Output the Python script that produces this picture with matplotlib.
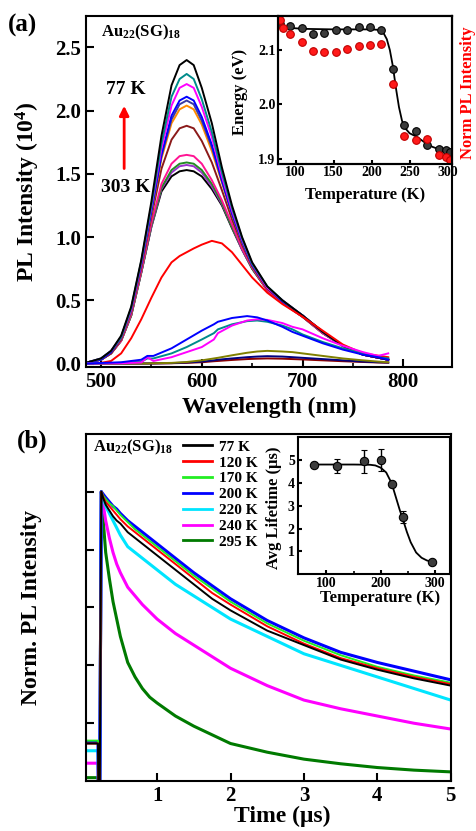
import numpy as np
import matplotlib
matplotlib.use('Agg')
import matplotlib.pyplot as plt
from matplotlib.ticker import FormatStrFormatter

plt.rcParams.update({
    'font.family': 'Liberation Serif',
    'font.weight': 'bold',
    'axes.labelweight': 'bold',
    'mathtext.fontset': 'custom',
    'mathtext.rm': 'Liberation Serif:bold',
    'mathtext.it': 'Liberation Serif:bold:italic',
    'mathtext.bf': 'Liberation Serif:bold',
    'axes.linewidth': 1.5,
    'xtick.direction': 'in',
    'ytick.direction': 'in',
    'xtick.major.width': 1.5,
    'ytick.major.width': 1.5,
    'xtick.minor.width': 1.2,
    'ytick.minor.width': 1.2,
})

# ---- (a) steady-state PL spectra, 77 K -> 303 K ----
wl = [487, 500, 510, 520, 530, 540, 550, 560, 570, 578, 585, 592, 600,
      610, 620, 630, 640, 650, 665, 680, 700, 720, 740, 760, 785]
pl_black = [0.01, 0.04, 0.10, 0.22, 0.45, 0.82, 1.28, 1.80, 2.20, 2.36, 2.40, 2.36, 2.18,
            1.90, 1.55, 1.25, 1.00, 0.80, 0.61, 0.50, 0.38, 0.25, 0.14, 0.07, 0.03]
pl_teal = [0.01, 0.04, 0.10, 0.21, 0.44, 0.81, 1.25, 1.74, 2.11, 2.25, 2.29, 2.25, 2.09,
           1.83, 1.51, 1.23, 0.99, 0.79, 0.61, 0.50, 0.38, 0.25, 0.14, 0.07, 0.04]
pl_magenta = [0.01, 0.04, 0.10, 0.21, 0.43, 0.80, 1.24, 1.70, 2.04, 2.18, 2.21, 2.18, 2.03,
              1.79, 1.48, 1.21, 0.98, 0.79, 0.60, 0.50, 0.38, 0.25, 0.14, 0.07, 0.03]
pl_blue = [0.01, 0.03, 0.09, 0.21, 0.43, 0.79, 1.21, 1.65, 1.96, 2.08, 2.11, 2.08, 1.95,
           1.73, 1.45, 1.19, 0.97, 0.78, 0.60, 0.49, 0.38, 0.25, 0.14, 0.07, 0.03]
pl_navy = [0.01, 0.03, 0.09, 0.20, 0.42, 0.78, 1.20, 1.64, 1.93, 2.05, 2.08, 2.05, 1.92,
           1.71, 1.44, 1.18, 0.96, 0.78, 0.60, 0.49, 0.38, 0.25, 0.14, 0.07, 0.03]
pl_orange = [0.01, 0.03, 0.09, 0.20, 0.42, 0.78, 1.19, 1.62, 1.90, 2.01, 2.04, 2.01, 1.89,
             1.68, 1.43, 1.18, 0.96, 0.78, 0.60, 0.49, 0.38, 0.25, 0.14, 0.07, 0.03]
pl_maroon = [0.01, 0.03, 0.08, 0.19, 0.41, 0.76, 1.16, 1.54, 1.77, 1.86, 1.88, 1.86, 1.76,
             1.59, 1.37, 1.14, 0.94, 0.77, 0.59, 0.49, 0.37, 0.25, 0.14, 0.07, 0.03]
pl_pink = [0.01, 0.03, 0.08, 0.18, 0.39, 0.73, 1.11, 1.42, 1.58, 1.64, 1.65, 1.64, 1.58,
           1.45, 1.29, 1.10, 0.91, 0.76, 0.58, 0.48, 0.37, 0.24, 0.14, 0.07, 0.03]
pl_green = [0.01, 0.03, 0.08, 0.18, 0.38, 0.72, 1.09, 1.39, 1.53, 1.58, 1.59, 1.58, 1.53,
            1.42, 1.27, 1.08, 0.91, 0.75, 0.58, 0.48, 0.37, 0.24, 0.14, 0.07, 0.03]
pl_violet = [0.01, 0.03, 0.08, 0.18, 0.38, 0.72, 1.08, 1.38, 1.51, 1.56, 1.57, 1.56, 1.51,
             1.40, 1.26, 1.08, 0.90, 0.75, 0.58, 0.48, 0.37, 0.24, 0.14, 0.07, 0.03]
pl_black2 = [0.01, 0.03, 0.08, 0.18, 0.38, 0.72, 1.08, 1.36, 1.48, 1.52, 1.53, 1.52, 1.48,
             1.38, 1.25, 1.07, 0.90, 0.75, 0.58, 0.48, 0.37, 0.24, 0.14, 0.07, 0.03]
pl_red = [0.0, 0.005, 0.02, 0.08, 0.20, 0.35, 0.52, 0.68, 0.80, 0.85, 0.88, 0.91, 0.94,
          0.97, 0.95, 0.88, 0.78, 0.68, 0.56, 0.47, 0.37, 0.26, 0.15, 0.08, 0.05]

# weak, red-shifted emission at the highest temperatures
wl_lo = [487, 520, 540, 546, 552, 570, 585, 600, 612, 616, 630, 645, 655,
         665, 680, 690, 700, 720, 740, 760, 775, 785]
lo_blue = [0.0, 0.01, 0.03, 0.06, 0.06, 0.12, 0.19, 0.26, 0.31, 0.33, 0.36, 0.375, 0.365,
           0.34, 0.29, 0.25, 0.22, 0.16, 0.11, 0.07, 0.05, 0.03]
lo_teal = [0.0, 0.005, 0.015, 0.04, 0.04, 0.08, 0.13, 0.19, 0.24, 0.27, 0.31, 0.335, 0.34,
           0.33, 0.30, 0.27, 0.23, 0.17, 0.12, 0.08, 0.05, 0.04]
lo_magenta = [0.0, 0.002, 0.008, 0.05, 0.02, 0.05, 0.09, 0.13, 0.19, 0.24, 0.30, 0.34, 0.35,
              0.345, 0.32, 0.29, 0.27, 0.20, 0.14, 0.09, 0.06, 0.08]
lo_olive = [0.0, 0.0, 0.0, 0.0, 0.002, 0.005, 0.012, 0.025, 0.04, 0.045, 0.065, 0.085, 0.095,
            0.10, 0.095, 0.09, 0.08, 0.06, 0.04, 0.025, 0.015, 0.01]
lo_navy = [0.0, 0.0, 0.0, 0.0, 0.001, 0.003, 0.008, 0.015, 0.025, 0.03, 0.04, 0.05, 0.055,
           0.058, 0.055, 0.05, 0.045, 0.035, 0.025, 0.015, 0.01, 0.008]
lo_maroon = [0.0, 0.0, 0.0, 0.0, 0.0, 0.002, 0.005, 0.01, 0.018, 0.02, 0.028, 0.035, 0.038,
             0.04, 0.038, 0.035, 0.032, 0.025, 0.018, 0.012, 0.008, 0.006]

# inset (a): peak energy and normalised PL intensity vs temperature
T_energy = [80, 93, 108, 123, 138, 153, 168, 183, 198, 213, 228, 243, 258, 273, 288, 298, 303]
energy = [2.148, 2.145, 2.140, 2.129, 2.132, 2.137, 2.137, 2.143, 2.143, 2.137, 2.066, 1.963,
          1.951, 1.925, 1.918, 1.916, 1.913]
T_norm = [80, 83, 93, 108, 123, 138, 153, 168, 183, 198, 213, 228, 243, 258, 273, 288, 298, 303]
norm_pl = [1.00, 0.94, 0.90, 0.84, 0.78, 0.77, 0.77, 0.79, 0.81, 0.82, 0.83, 0.54, 0.17,
           0.14, 0.15, 0.03, 0.02, 0.0]
T_efit = [77, 90, 110, 150, 200, 210, 215, 220, 224, 228, 232, 236, 240, 245, 250, 260,
          270, 280, 290, 303]
E_fit = [2.143, 2.141, 2.139, 2.138, 2.138, 2.137, 2.133, 2.120, 2.100, 2.070, 2.030, 1.995,
         1.970, 1.955, 1.947, 1.940, 1.930, 1.922, 1.917, 1.912]

# ---- (b) PL decays ----
t_us = [0.03, 0.195, 0.20, 0.22, 0.24, 0.27, 0.3, 0.35, 0.4, 0.45, 0.5, 0.6, 0.7, 0.8,
        0.9, 1.0, 1.25, 1.5, 1.75, 2.0, 2.5, 3.0, 3.5, 4.0, 4.5, 5.0]
decay = {
    '77 K':  [0.13, 0.13, 0.0, 0.0, 1.0, 0.975, 0.955, 0.935, 0.915, 0.90, 0.89, 0.86, 0.84,
              0.82, 0.80, 0.78, 0.73, 0.68, 0.63, 0.59, 0.52, 0.47, 0.42, 0.385, 0.355, 0.33],
    '120 K': [0.13, 0.13, 0.0, 0.0, 1.0, 0.98, 0.965, 0.95, 0.935, 0.92, 0.905, 0.88, 0.86,
              0.84, 0.82, 0.80, 0.75, 0.70, 0.65, 0.61, 0.535, 0.475, 0.425, 0.39, 0.36, 0.335],
    '170 K': [0.14, 0.14, 0.0, 0.0, 1.0, 0.985, 0.975, 0.96, 0.95, 0.935, 0.92, 0.895, 0.87,
              0.85, 0.83, 0.81, 0.76, 0.71, 0.665, 0.62, 0.545, 0.485, 0.435, 0.395, 0.365, 0.34],
    '200 K': [0.135, 0.135, 0.0, 0.0, 1.0, 0.99, 0.98, 0.965, 0.95, 0.94, 0.925, 0.90, 0.88,
              0.86, 0.84, 0.82, 0.77, 0.72, 0.675, 0.63, 0.555, 0.495, 0.445, 0.41, 0.38, 0.35],
    '220 K': [0.105, 0.105, 0.0, 0.0, 1.0, 0.975, 0.95, 0.925, 0.90, 0.875, 0.85, 0.81, 0.79,
              0.77, 0.75, 0.73, 0.68, 0.64, 0.60, 0.56, 0.50, 0.44, 0.40, 0.36, 0.32, 0.28],
    '240 K': [0.062, 0.062, 0.0, 0.0, 1.0, 0.95, 0.90, 0.84, 0.79, 0.75, 0.72, 0.67, 0.64,
              0.61, 0.585, 0.56, 0.51, 0.47, 0.43, 0.39, 0.33, 0.28, 0.25, 0.225, 0.20, 0.18],
    '295 K': [0.012, 0.012, 0.0, 0.0, 1.0, 0.89, 0.79, 0.70, 0.62, 0.56, 0.50, 0.41, 0.36,
              0.32, 0.29, 0.27, 0.225, 0.19, 0.16, 0.13, 0.10, 0.076, 0.06, 0.047, 0.038, 0.032],
}
decay_colors = {'77 K': '#000000', '120 K': '#ff0000', '170 K': '#22ee22', '200 K': '#0000ff',
                '220 K': '#00e5ff', '240 K': '#ff00ff', '295 K': '#007a00'}

# inset (b): average lifetime vs temperature
T_tau = [77, 120, 170, 200, 220, 240, 295]
tau = [4.79, 4.75, 4.94, 5.0, 3.93, 2.50, 0.52]
tau_err = [0.1, 0.3, 0.5, 0.5, 0.12, 0.25, 0.05]
T_taufit = [77, 100, 150, 180, 190, 200, 210, 220, 228, 235, 240, 248, 255, 265, 275, 285, 295]
tau_fit = [4.80, 4.80, 4.80, 4.79, 4.76, 4.66, 4.45, 3.98, 3.35, 2.80, 2.45, 1.85, 1.40,
           0.95, 0.72, 0.60, 0.54]


fig = plt.figure(figsize=(4.77, 8.31), dpi=100)

# ---------------- panel (a) ----------------
ax1 = fig.add_axes([0.180, 0.558, 0.767, 0.423])
spectra = [(pl_black2, '#000000'), (pl_violet, '#9932cc'), (pl_green, '#228b22'),
           (pl_pink, '#ff1493'), (pl_maroon, '#8b1a1a'), (pl_orange, '#ff8c00'),
           (pl_navy, '#3a3aa0'), (pl_blue, '#0000ff'), (pl_magenta, '#ff00ff'),
           (pl_teal, '#008b8b'), (pl_black, '#000000'), (pl_red, '#ff0000')]
for vals, c in spectra:
    ax1.plot(wl, vals, color=c, lw=1.4)
low = [(lo_maroon, '#8b0000'), (lo_navy, '#000080'), (lo_olive, '#808000'),
       (lo_teal, '#008b8b'), (lo_magenta, '#ff00ff'), (lo_blue, '#0000ff')]
for vals, c in low:
    ax1.plot(wl_lo, vals, color=c, lw=1.4)

ax1.set_xlim(485, 848)
ax1.set_ylim(-0.03, 2.75)
ax1.set_xticks([500, 600, 700, 800])
ax1.set_xticks([550, 650, 750], minor=True)
ax1.set_yticks([0, 0.5, 1.0, 1.5, 2.0, 2.5])
ax1.yaxis.set_major_formatter(FormatStrFormatter('%.1f'))
ax1.tick_params(which='major', length=5.5, labelsize=15)
ax1.tick_params(which='minor', length=3)
ax1.set_xlabel('Wavelength (nm)', fontsize=17)
ax1.set_ylabel('PL Intensity (10$^4$)', fontsize=17)
ax1.xaxis.set_label_coords(0.5, -0.083)
ax1.yaxis.set_label_coords(-0.12, 0.5)

ax1.text(0.041, 0.952, r'Au$_{22}$(SG)$_{18}$', transform=ax1.transAxes,
         fontsize=12, va='center', ha='left')
ax1.text(0.108, 0.789, '77 K', transform=ax1.transAxes, fontsize=14, ha='center', va='center')
ax1.text(0.109, 0.511, '303 K', transform=ax1.transAxes, fontsize=14, ha='center', va='center')
ax1.annotate('', xy=(523, 2.06), xytext=(523, 1.52),
             arrowprops=dict(arrowstyle='-|>', color='red', lw=2, mutation_scale=14))

# inset: energy (black) and normalised intensity (red)
axi1 = fig.add_axes([0.583, 0.803, 0.365, 0.178])
axi1.plot(T_efit, E_fit, color='k', lw=1.3)
axi1.plot(T_energy, energy, 'o', mfc='#3c3c3c', mec='k', mew=0.8, ms=5.5)
axi1.set_xlim(77, 306)
axi1.set_ylim(1.891, 2.163)
axi1.set_xticks([100, 150, 200, 250, 300])
axi1.set_yticks([1.9, 2.0, 2.1])
axi1.yaxis.set_major_formatter(FormatStrFormatter('%.1f'))
axi1.tick_params(length=3, labelsize=10, pad=2, right=True)
axi1.set_xlabel('Temperature (K)', fontsize=12)
axi1.set_ylabel('Energy (eV)', fontsize=12)
axi1.xaxis.set_label_coords(0.5, -0.155)
axi1.yaxis.set_label_coords(-0.172, 0.486)

axr = axi1.twinx()
axr.plot(T_norm, norm_pl, 'o', mfc='#ff1a1a', mec='#c00000', mew=0.8, ms=5.5)
axr.set_ylim(-0.03, 1.03)
axr.set_yticks([])
axr.set_ylabel('Norm PL Intensity', fontsize=12, color='red')
axr.yaxis.set_label_coords(1.046, 0.48)

fig.text(0.017, 0.969, '(a)', fontsize=18, va='center', ha='left')

# ---------------- panel (b) ----------------
ax2 = fig.add_axes([0.180, 0.060, 0.765, 0.418])
for key in ['295 K', '240 K', '220 K', '200 K']:
    ax2.plot(t_us, decay[key], color=decay_colors[key], lw=2.2)
for key in ['170 K', '120 K', '77 K']:
    ax2.plot(t_us, decay[key], color=decay_colors[key], lw=1.4)

ax2.set_xlim(0.03, 5.0)
ax2.set_ylim(0, 1.2)
ax2.set_xticks([1, 2, 3, 4, 5])
ax2.set_yticks([0.2, 0.4, 0.6, 0.8, 1.0])
ax2.set_yticklabels([])
ax2.tick_params(length=5.5, labelsize=15)
ax2.set_xlabel('Time (\u03bcs)', fontsize=17)
ax2.set_ylabel('Norm. PL Intensity', fontsize=17)
ax2.xaxis.set_label_coords(0.538, -0.072)
ax2.yaxis.set_label_coords(-0.12, 0.5)

handles = [plt.Line2D([], [], color=decay_colors[k], lw=2) for k in decay]
ax2.legend(handles, list(decay.keys()), loc='upper left', bbox_to_anchor=(0.265, 0.982),
           frameon=False, fontsize=11, handlelength=1.9, handletextpad=0.5,
           labelspacing=0.14, borderaxespad=0, borderpad=0)
ax2.text(0.019, 0.96, r'Au$_{22}$(SG)$_{18}$', transform=ax2.transAxes,
         fontsize=12, va='center', ha='left')

# inset: average lifetime
axi2 = fig.add_axes([0.624, 0.309, 0.319, 0.165])
axi2.plot(T_taufit, tau_fit, color='k', lw=1.3)
axi2.errorbar(T_tau, tau, yerr=tau_err, fmt='o', mfc='#3c3c3c', mec='k', mew=0.8,
              ms=6, ecolor='k', elinewidth=1, capsize=2)
axi2.set_xlim(47, 327)
axi2.set_ylim(0, 6)
axi2.set_xticks([100, 200, 300])
axi2.set_xticks([150, 250], minor=True)
axi2.set_yticks([1, 2, 3, 4, 5])
axi2.tick_params(which='major', length=3, labelsize=10, pad=2)
axi2.tick_params(which='minor', length=2)
axi2.set_xlabel('Temperature (K)', fontsize=12)
axi2.set_ylabel('Avg Lifetime (\u03bcs)', fontsize=12)
axi2.xaxis.set_label_coords(0.54, -0.117)
axi2.yaxis.set_label_coords(-0.103, 0.488)

fig.text(0.036, 0.469, '(b)', fontsize=18, va='center', ha='left')

fig.savefig('out.png', dpi=100)
